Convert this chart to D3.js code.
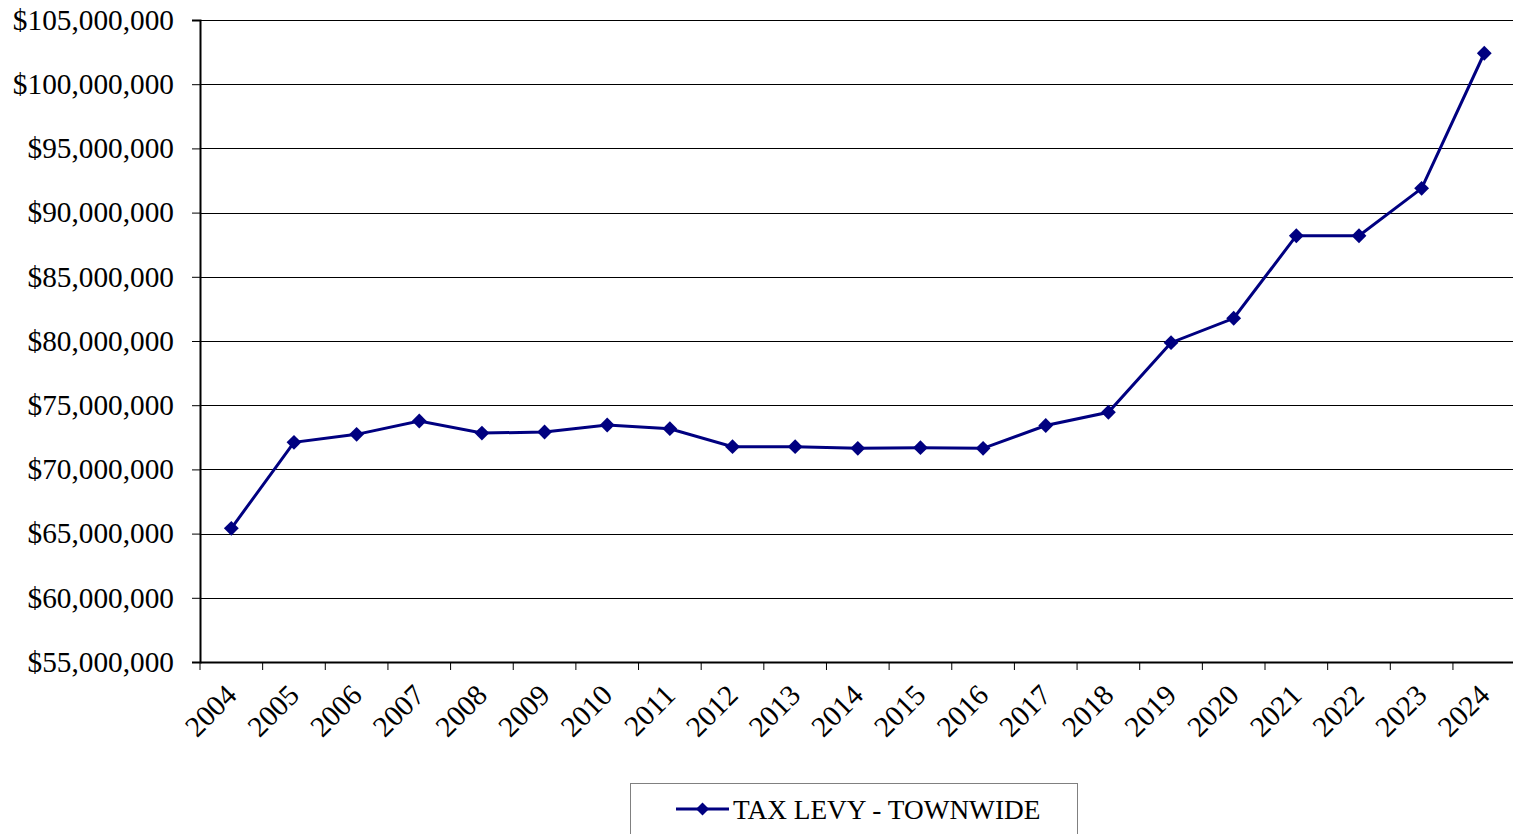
<!DOCTYPE html>
<html>
<head>
<meta charset="utf-8">
<script src="https://cdn.jsdelivr.net/npm/d3@7"></script>
<style>
  html, body { margin: 0; padding: 0; background: #fff; }
  svg { display: block; }
  text { font-family: "Liberation Serif", "Times New Roman", serif; fill: #000; }
</style>
</head>
<body>
<svg id="chart" width="1513" height="834"></svg>
<script>
const years = ["2004","2005","2006","2007","2008","2009","2010","2011","2012","2013","2014","2015","2016","2017","2018","2019","2020","2021","2022","2023","2024"];
const taxLevy = [65410000, 72110000, 72730000, 73770000, 72830000, 72910000, 73460000, 73170000, 71770000, 71770000, 71640000, 71690000, 71640000, 73420000, 74450000, 79870000, 81770000, 88200000, 88200000, 91890000, 102410000];
const yTicks = [55000000, 60000000, 65000000, 70000000, 75000000, 80000000, 85000000, 90000000, 95000000, 100000000, 105000000];
const seriesName = "TAX LEVY - TOWNWIDE";

(function () {
const svg = d3.select("#chart");
const mLeft = 200, mRight = 1515.6, mTop = 20, mBottom = 662;
const color = "#000080";
const axisFont = "29.3px";
const legendFont = "27.3px";

const x = d3.scaleBand().domain(years).range([mLeft, mRight]).paddingInner(0).paddingOuter(0);
const y = d3.scaleLinear().domain([55000000, 105000000]).range([mBottom, mTop]);

// gridlines
svg.append("g").selectAll("line").data(yTicks).join("line")
  .attr("x1", mLeft).attr("x2", 1513)
  .attr("y1", d => Math.round(y(d)) + 0.5).attr("y2", d => Math.round(y(d)) + 0.5)
  .attr("stroke", "#000").attr("stroke-width", 1);

// y axis
const fmt = d => "$" + d3.format(",")(d);
const yAxis = svg.append("g").attr("transform", `translate(${mLeft},0)`)
  .call(d3.axisLeft(y).tickValues(yTicks).tickFormat(fmt).tickSize(8).tickPadding(18));
yAxis.select(".domain").attr("stroke", "#000").attr("stroke-width", 2);
yAxis.selectAll(".tick line").attr("stroke", "#000").attr("stroke-width", 1);
yAxis.selectAll("text").style("font-size", axisFont).style("font-family", '"Liberation Serif", serif')
  .attr("fill", "#000").attr("dy", "0.32em");

// x axis
const xAxis = svg.append("g").attr("transform", `translate(0,${mBottom})`)
  .call(d3.axisBottom(x).tickSize(0).tickFormat(d => d));
xAxis.select(".domain").attr("stroke", "#000").attr("stroke-width", 2);
const boundaries = years.map(d => x(d));
xAxis.selectAll("line.bound").data(boundaries).join("line").attr("class", "bound")
  .attr("x1", d => d).attr("x2", d => d).attr("y1", 0).attr("y2", 8)
  .attr("stroke", "#000").attr("stroke-width", 1);
xAxis.selectAll(".tick text")
  .style("font-size", axisFont).style("font-family", '"Liberation Serif", serif').attr("fill", "#000")
  .attr("text-anchor", "end")
  .attr("dy", "0")
  .attr("transform", "translate(7,35) rotate(-45)")
  .attr("y", 0).attr("x", 0);

// line
const line = d3.line().x((d, i) => x(years[i]) + x.bandwidth() / 2).y(d => y(d));
svg.append("path").datum(taxLevy)
  .attr("d", line).attr("fill", "none").attr("stroke", color).attr("stroke-width", 3);

const diamond = d3.symbol().type(d3.symbolSquare).size(110);
svg.append("g").selectAll("path").data(taxLevy).join("path")
  .attr("d", diamond)
  .attr("transform", (d, i) => `translate(${x(years[i]) + x.bandwidth() / 2},${y(d)}) rotate(45)`)
  .attr("fill", color);

// legend
const lg = svg.append("g");
lg.append("rect").attr("x", 630.5).attr("y", 783.5).attr("width", 447).attr("height", 70)
  .attr("fill", "#fff").attr("stroke", "#808080").attr("stroke-width", 1);
lg.append("line").attr("x1", 676).attr("x2", 729).attr("y1", 809).attr("y2", 809)
  .attr("stroke", color).attr("stroke-width", 3);
lg.append("path").attr("d", d3.symbol().type(d3.symbolSquare).size(85)())
  .attr("transform", "translate(702.5,809) rotate(45)").attr("fill", color);
lg.append("text").attr("x", 733).attr("y", 819).style("font-size", legendFont).text(seriesName);
})();
</script>
</body>
</html>
